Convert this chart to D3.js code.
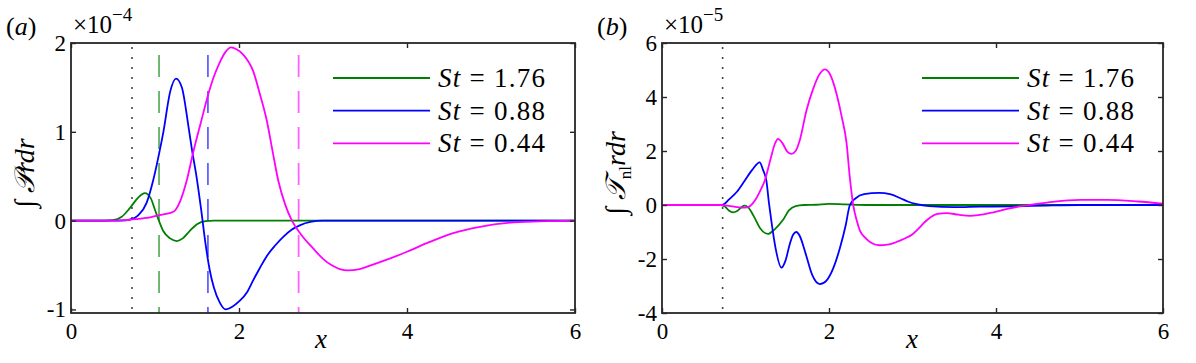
<!DOCTYPE html>
<html lang="en">
<head>
<meta charset="UTF-8">
<title>Integrated production and nonlinear transfer</title>
<script src="https://d3js.org/d3.v7.min.js"></script>
<style>
  body { margin: 0; background: #fff; }
  svg text { font-family: "Liberation Serif", "DejaVu Serif", serif; fill: #000; }
  .tick line { stroke: #262626; stroke-width: 1.4; }
  .tick text { font-size: 23px; }
  .domain { display: none; }
</style>
</head>
<body>
<svg id="chart" width="1196" height="363"></svg>
<script>
// series labels and colours
const stLabels = ["1.76", "0.88", "0.44"];
const stColors = ["#008000", "#0000ff", "#ff00ff"];

// ticks
const xTicks = [0, 2, 4, 6];
const yTicksA = [-1, 0, 1, 2];
const yTicksB = [-4, -2, 0, 2, 4, 6];

// vertical marker lines (x positions)
const dottedX = 0.726;
const dashedXA = [1.048, 1.63, 2.71];   // one per St, panel (a)

// panel (a): integral of P r dr, units 1e-4
const aGreen = [[0,0],[0.4,0],[0.5,0.005],[0.6,0.04],[0.7,0.14],[0.8,0.26],[0.88,0.31],[0.95,0.25],[1.0,0.12],[1.05,-0.01],[1.1,-0.12],[1.18,-0.2],[1.26,-0.23],[1.33,-0.2],[1.41,-0.12],[1.5,-0.04],[1.6,-0.005],[1.7,0],[6,0]];
const aBlue = [[0,0],[0.6,0],[0.7,0.01],[0.8,0.06],[0.9,0.2],[0.98,0.46],[1.05,0.76],[1.1,1.0],[1.18,1.45],[1.25,1.6],[1.32,1.5],[1.4,1.05],[1.44,0.8],[1.5,0.46],[1.55,0.12],[1.6,-0.25],[1.65,-0.55],[1.7,-0.75],[1.77,-0.92],[1.84,-1.0],[1.92,-0.97],[2.0,-0.91],[2.1,-0.8],[2.17,-0.67],[2.25,-0.53],[2.33,-0.4],[2.43,-0.28],[2.53,-0.18],[2.63,-0.1],[2.73,-0.05],[2.85,-0.015],[3.0,0],[6,0]];
const aMagenta = [[0,0],[0.5,0],[0.6,0.005],[0.7,0.01],[0.8,0.02],[0.9,0.03],[1.0,0.05],[1.1,0.07],[1.22,0.1],[1.3,0.22],[1.38,0.46],[1.45,0.75],[1.55,1.12],[1.63,1.41],[1.7,1.62],[1.77,1.78],[1.84,1.9],[1.905,1.95],[1.97,1.93],[2.05,1.87],[2.17,1.68],[2.25,1.42],[2.33,1.13],[2.4,0.78],[2.47,0.44],[2.55,0.18],[2.63,0],[2.75,-0.17],[2.88,-0.31],[3.0,-0.43],[3.1,-0.5],[3.2,-0.545],[3.3,-0.56],[3.42,-0.55],[3.55,-0.51],[3.76,-0.44],[4.0,-0.35],[4.27,-0.24],[4.55,-0.14],[4.87,-0.07],[5.27,-0.02],[6,0]];

// panel (b): integral of T_nl r dr, units 1e-5
const bGreen = [[0,0],[0.7,0],[0.75,-0.05],[0.8,-0.2],[0.85,-0.27],[0.9,-0.22],[0.95,-0.08],[0.99,-0.02],[1.03,-0.08],[1.1,-0.42],[1.18,-0.88],[1.27,-1.07],[1.35,-0.9],[1.45,-0.55],[1.52,-0.2],[1.6,-0.04],[1.7,0],[1.85,0.01],[2.0,0.04],[2.2,0.02],[2.5,0],[6,0]];
const bBlue = [[0,0],[0.7,0],[0.75,0.05],[0.8,0.2],[0.9,0.5],[0.99,0.9],[1.08,1.3],[1.17,1.58],[1.21,1.3],[1.25,0.9],[1.28,0.1],[1.31,-0.6],[1.36,-1.6],[1.43,-2.32],[1.48,-2.05],[1.53,-1.45],[1.57,-1.1],[1.61,-1.0],[1.65,-1.15],[1.72,-1.8],[1.8,-2.6],[1.89,-2.93],[1.97,-2.8],[2.05,-2.35],[2.13,-1.6],[2.2,-0.75],[2.25,0],[2.32,0.25],[2.42,0.4],[2.6,0.45],[2.73,0.4],[2.85,0.26],[2.95,0.12],[3.05,0.03],[3.2,-0.04],[3.5,-0.08],[3.81,-0.06],[4.21,-0.05],[4.6,-0.02],[5,0],[6,0]];
const bMagenta = [[0,0],[0.7,0],[0.8,-0.03],[0.9,-0.08],[0.99,-0.1],[1.05,-0.05],[1.12,0.2],[1.18,0.55],[1.23,0.9],[1.3,1.7],[1.35,2.25],[1.39,2.45],[1.44,2.3],[1.5,1.98],[1.55,1.89],[1.6,2.0],[1.65,2.4],[1.73,3.5],[1.81,4.3],[1.89,4.86],[1.95,5.02],[2.01,4.85],[2.09,4.12],[2.15,3.3],[2.21,2.3],[2.25,1.0],[2.29,0],[2.33,-0.55],[2.37,-0.95],[2.43,-1.2],[2.5,-1.39],[2.6,-1.49],[2.7,-1.47],[2.8,-1.38],[2.9,-1.25],[3.0,-1.08],[3.08,-0.85],[3.15,-0.62],[3.22,-0.44],[3.3,-0.33],[3.41,-0.3],[3.55,-0.36],[3.69,-0.4],[3.85,-0.35],[3.97,-0.27],[4.15,-0.13],[4.33,-0.03],[4.61,0.09],[5.01,0.19],[5.33,0.19],[5.7,0.13],[6,0.05]];

const svg = d3.select("#chart");

function drawPanel(opt) {
  const g = svg.append("g").attr("transform", `translate(${opt.left},${opt.top})`);
  const w = opt.width, h = opt.height;

  const x = d3.scaleLinear().domain([0, 6]).range([0, w]);
  const y = d3.scaleLinear().domain(opt.yDomain).range([h, 0]);

  const clipId = "clip-" + opt.name;
  g.append("clipPath").attr("id", clipId)
    .append("rect").attr("width", w).attr("height", h);

  const plot = g.append("g").attr("clip-path", `url(#${clipId})`);

  // dotted marker
  plot.append("line")
    .attr("x1", x(dottedX)).attr("x2", x(dottedX))
    .attr("y1", 4).attr("y2", h)
    .attr("stroke", "#444").attr("stroke-width", 1.6)
    .attr("stroke-dasharray", "2,8");

  // dashed markers
  (opt.dashed || []).forEach((v, i) => {
    plot.append("line")
      .attr("x1", x(v)).attr("x2", x(v))
      .attr("y1", 0).attr("y2", h)
      .attr("stroke", stColors[i]).attr("stroke-opacity", 0.62)
      .attr("stroke-width", 1.8)
      .attr("stroke-dasharray", "22,14").attr("stroke-dashoffset", 24);
  });

  const line = d3.line()
    .x(d => x(d[0])).y(d => y(d[1]))
    .curve(d3.curveMonotoneX);

  opt.series.forEach((s, i) => {
    plot.append("path")
      .datum(s)
      .attr("fill", "none")
      .attr("stroke", stColors[i])
      .attr("stroke-width", 1.8)
      .attr("d", line);
  });

  // axes with inward ticks on all four sides
  g.append("g").attr("transform", `translate(0,${h})`)
    .call(d3.axisBottom(x).tickValues(xTicks).tickSize(-5).tickPadding(10).tickFormat(d3.format("d")));
  g.append("g")
    .call(d3.axisTop(x).tickValues(xTicks).tickSize(-5).tickFormat(""));
  g.append("g")
    .call(d3.axisLeft(y).tickValues(opt.yTicks).tickSize(-5).tickPadding(5).tickFormat(d => String(d)));
  g.append("g").attr("transform", `translate(${w},0)`)
    .call(d3.axisRight(y).tickValues(opt.yTicks).tickSize(-5).tickFormat(""));

  g.append("rect")
    .attr("width", w).attr("height", h)
    .attr("fill", "none").attr("stroke", "#262626").attr("stroke-width", 1.8);

  // exponent
  const ex = g.append("text").attr("x", 2).attr("y", -10).style("font-size", "25px");
  ex.append("tspan").text("\u00d710");
  ex.append("tspan").attr("dy", -12).style("font-size", "19px").text("\u2212" + opt.exponent);

  // panel letter
  svg.append("text")
    .attr("x", opt.left - 65).attr("y", opt.top - 8)
    .style("font-size", "26px")
    .html(`(<tspan font-style="italic">${opt.name}</tspan>)`);

  // x label
  g.append("text")
    .attr("x", opt.xLabelX).attr("y", h + 35)
    .attr("text-anchor", "middle")
    .style("font-size", "27px").style("font-style", "italic")
    .text("x");

  // y label
  const yl = svg.append("text")
    .attr("transform", `translate(${opt.left - 37},${opt.top + 130}) rotate(-90)`)
    .attr("text-anchor", "middle")
    .style("font-size", "28px");
  yl.append("tspan").text("\u222b ");
  yl.append("tspan").style("font-style", "italic").text(opt.yVar);
  if (opt.ySub) {
    yl.append("tspan").attr("dy", 6).style("font-size", "17px").text(opt.ySub);
    yl.append("tspan").attr("dy", -6).style("font-style", "italic").text("rdr");
  } else {
    yl.append("tspan").style("font-style", "italic").text("rdr");
  }

  // legend
  const leg = g.append("g").attr("transform", `translate(${opt.legendX},35)`);
  stLabels.forEach((lab, i) => {
    const row = leg.append("g").attr("transform", `translate(0,${i * 32.7})`);
    row.append("line").attr("x1", 0).attr("x2", 97)
      .attr("stroke", stColors[i]).attr("stroke-width", 1.8);
    const t = row.append("text").attr("x", 105).attr("y", 9)
      .attr("textLength", 107).attr("lengthAdjust", "spacing")
      .style("font-size", "27px");
    t.append("tspan").style("font-style", "italic").text("St");
    t.append("tspan").text(" = " + lab);
  });
}

drawPanel({
  name: "a", left: 71, top: 43, width: 504, height: 270,
  yDomain: [-1.04, 2], yTicks: yTicksA, exponent: "4",
  series: [aGreen, aBlue, aMagenta], dashed: dashedXA,
  yVar: "\ud835\udcab", ySub: null,
  legendX: 262, xLabelX: 250
});

drawPanel({
  name: "b", left: 662, top: 43, width: 501, height: 270,
  yDomain: [-4, 6], yTicks: yTicksB, exponent: "5",
  series: [bGreen, bBlue, bMagenta], dashed: null,
  yVar: "\ud835\udcaf", ySub: "nl",
  legendX: 260, xLabelX: 250
});
</script>
</body>
</html>
